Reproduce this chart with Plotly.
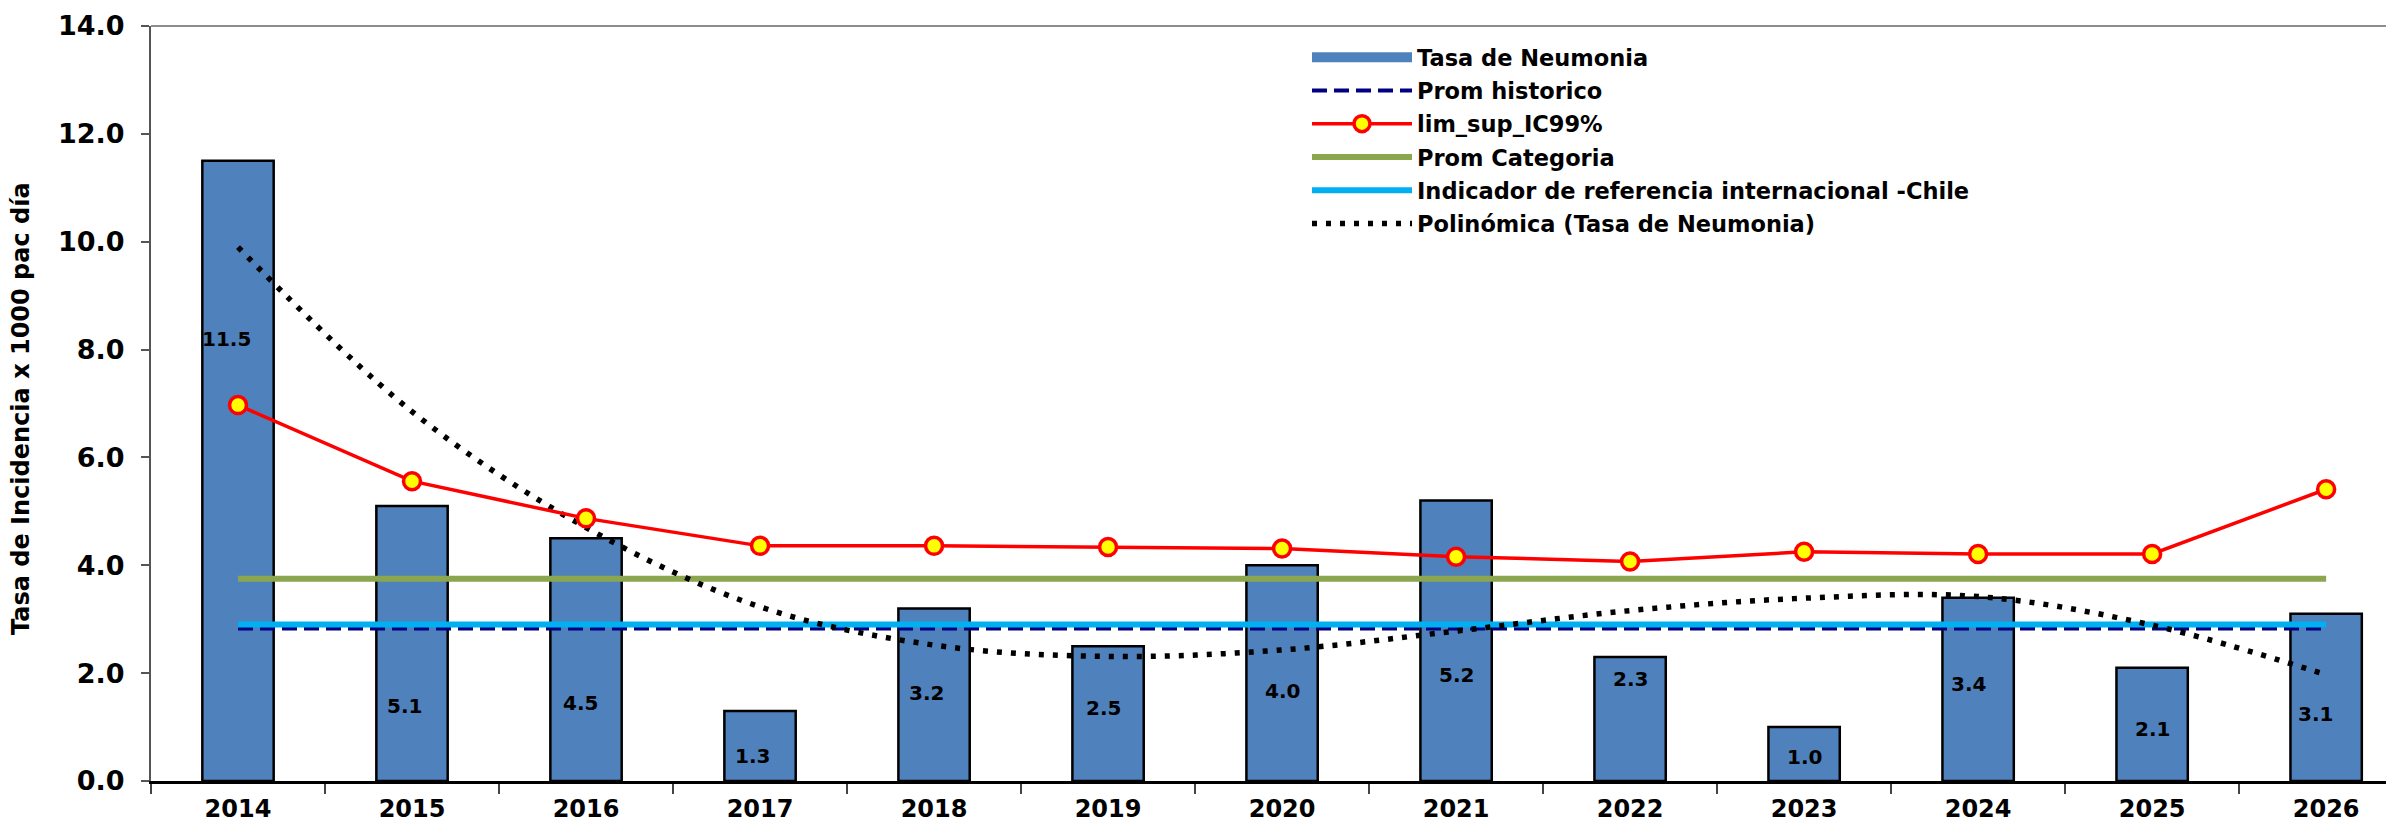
import plotly.graph_objects as go

years = ["2014", "2015", "2016", "2017", "2018", "2019", "2020",
         "2021", "2022", "2023", "2024", "2025", "2026"]
tasa_neumonia = [11.5, 5.1, 4.5, 1.3, 3.2, 2.5, 4.0, 5.2, 2.3, 1.0, 3.4, 2.1, 3.1]
lim_sup_ic99 = [6.97, 5.56, 4.87, 4.36, 4.36, 4.34, 4.31, 4.16, 4.07, 4.25, 4.21, 4.21, 5.41]
prom_historico = [2.83, 2.83, 2.83, 2.83, 2.83, 2.83, 2.83, 2.83, 2.83, 2.83, 2.83, 2.83, 2.83]
prom_categoria = [3.75, 3.75, 3.75, 3.75, 3.75, 3.75, 3.75, 3.75, 3.75, 3.75, 3.75, 3.75, 3.75]
indicador_chile = [2.90, 2.90, 2.90, 2.90, 2.90, 2.90, 2.90, 2.90, 2.90, 2.90, 2.90, 2.90, 2.90]
polinomica = [9.9, 6.85, 4.70, 3.23, 2.52, 2.31, 2.43, 2.78, 3.16, 3.39, 3.42, 2.89, 1.97]
# placement of the value labels inside the bars
label_pos = [8.2, 1.40, 1.44, 0.46, 1.64, 1.35, 1.67, 1.97, 1.89, 0.44, 1.79, 0.96, 1.24]
label_dx = [-12, -8, -6, -8, -8, -5, 0, 0, 0, 0, -10, 0, -11]

FONT = "DejaVu Sans"
W, H = 2386, 821          # page body has an 8px margin
L, T, B = 143, 18, 48
PW = W - L
PH = H - T - B

fig = go.Figure()

fig.add_trace(go.Bar(
    x=years, y=tasa_neumonia, name="Tasa de Neumonia", width=0.41,
    marker=dict(color="#4F81BD", line=dict(color="black", width=2.5)),
    showlegend=False,
))
# legend entry for the bars, drawn as a wide swatch like the original
fig.add_trace(go.Scatter(
    x=[None], y=[None], name="Tasa de Neumonia", mode="lines",
    line=dict(color="#4F81BD", width=13),
    legendrank=1, legendgroup="a",
))
fig.add_trace(go.Scatter(
    x=years, y=prom_historico, name="Prom historico", mode="lines",
    line=dict(color="#000080", width=4, dash="15px,7px"),
    legendrank=2, legendgroup="b",
))
fig.add_trace(go.Scatter(
    x=years, y=prom_categoria, name="Prom Categoria", mode="lines",
    line=dict(color="#8AA64F", width=6),
    legendrank=4, legendgroup="d",
))
fig.add_trace(go.Scatter(
    x=years, y=indicador_chile, name="Indicador de referencia internacional -Chile",
    mode="lines", line=dict(color="#00B0F0", width=6),
    legendrank=5, legendgroup="e",
))
fig.add_trace(go.Scatter(
    x=years, y=polinomica, name="Polinómica (Tasa de Neumonia)", mode="lines",
    line=dict(color="black", width=5.5, dash="5px,9px", shape="spline"),
    legendrank=6, legendgroup="f",
))
fig.add_trace(go.Scatter(
    x=years, y=lim_sup_ic99, name="lim_sup_IC99%", mode="lines+markers",
    line=dict(color="#FF0000", width=3.5),
    marker=dict(color="#FFFF00", size=17, line=dict(color="#FF0000", width=3.5)),
    legendrank=3, legendgroup="c",
))

annotations = []
for i, (v, ly, dx) in enumerate(zip(tasa_neumonia, label_pos, label_dx)):
    annotations.append(dict(
        x=i, y=ly, xref="x", yref="y", text=f"{v:.1f}", showarrow=False,
        xshift=dx, font=dict(family=FONT, size=20, color="black", weight="bold"),
    ))
annotations.append(dict(
    text="Tasa de Incidencia x 1000 pac día", textangle=-90,
    xref="paper", yref="paper", x=(13 - L) / PW, y=(T + PH - 401) / PH,
    xanchor="center", yanchor="middle", showarrow=False,
    font=dict(family=FONT, size=24, color="black", weight="bold"),
))

fig.update_layout(
    width=W, height=H, autosize=False,
    margin=dict(l=L, r=0, t=T, b=B, pad=0),
    paper_bgcolor="white", plot_bgcolor="white",
    font=dict(family=FONT, color="black"),
    showlegend=True,
    legend=dict(
        x=(1299 - L) / PW, y=1 - (28 - T) / PH, xanchor="left", yanchor="top",
        bgcolor="rgba(0,0,0,0)", borderwidth=0,
        font=dict(family=FONT, size=22.5, color="black", weight="bold"),
        itemwidth=100, traceorder="grouped", tracegroupgap=1,
    ),
    xaxis=dict(
        type="category", range=[-0.5, 12.39],
        tickson="boundaries", ticks="outside", ticklen=10, tickwidth=2, tickcolor="#444",
        showline=True, linecolor="black", linewidth=2.5,
        showgrid=False, zeroline=False,
        tickfont=dict(family=FONT, size=24, color="black", weight="bold"),
        ticklabelstandoff=4,
    ),
    yaxis=dict(
        range=[0, 14], dtick=2, tickformat=".1f",
        ticks="outside", ticklen=8, tickwidth=2, tickcolor="#555",
        showline=True, linecolor="#555", linewidth=2,
        showgrid=False, zeroline=False,
        tickfont=dict(family=FONT, size=27, color="black", weight="bold"),
        ticklabelstandoff=11,
    ),
    shapes=[dict(type="line", xref="paper", yref="paper", x0=0, x1=1, y0=1, y1=1,
                 line=dict(color="#8C8C8C", width=2), layer="above")],
    annotations=annotations,
)

fig.write_html("out.html")
